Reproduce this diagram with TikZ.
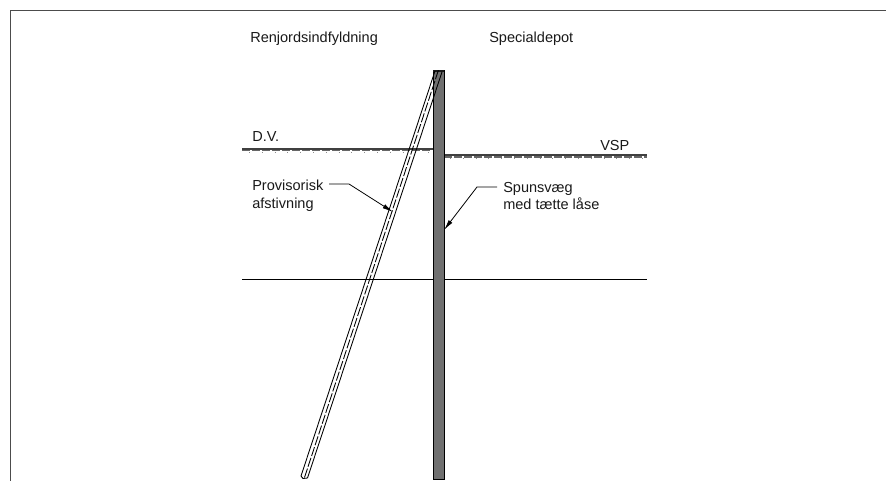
\documentclass[tikz,border=0pt]{standalone}
\usepackage{fontspec}
\setmainfont{Liberation Sans}
\usetikzlibrary{arrows.meta,calc}
\definecolor{wallgrey}{RGB}{112,112,112}
\tikzset{
  lbl/.style={inner sep=0pt,anchor=base west,font=\fontsize{10.9pt}{12pt}\selectfont,text=black!90},
  thinl/.style={draw=black,line width=0.65pt},
  ground/.style={draw=black!75,line width=1.4pt},
  gdash/.style={draw=black!60,line width=1pt,dash pattern=on 6pt off 1.5pt},
  gdot/.style={draw=black!45,line width=0.5pt,dash pattern=on 0.6pt off 9pt},
  leader/.style={draw=black,line width=0.6pt,-{Latex[length=8pt,width=3.4pt]}},
}
\begin{document}
\begin{tikzpicture}[x=0.75pt,y=-0.75pt]
\useasboundingbox (0,0) rectangle (886,481);
% frame
\draw[draw=black!70,line width=1.1pt] (10.5,481) -- (10.5,10.5) -- (886,10.5);
% coordinates
\coordinate (dvL) at (242,149);
\coordinate (dvR) at (433,149);
\coordinate (vspL) at (444,155);
\coordinate (vspR) at (647,155);
\coordinate (hL) at (242,279.5);
\coordinate (hR) at (647,279.5);
% ground lines
\draw[ground] (dvL) -- (dvR);
\draw[gdash] (242,150.8) -- (430,150.8);
\draw[gdot] (249,152.5) -- (430,152.5);
\draw[ground] (vspL) -- (vspR);
\draw[gdash] (444,157) -- (647,157);
\draw[gdot] (450,158.5) -- (647,158.5);
\draw[thinl] (hL) -- (hR);
% wall
\node[draw=black,fill=wallgrey,line width=0.65pt,minimum width=8.25pt,minimum height=306.75pt,inner sep=0pt,anchor=north west] (wall) at (433,70) {};
\fill[black!90] (433,70) rectangle (443.5,72);
% strut
\coordinate (sT) at (438.5,70);
\coordinate (sB) at (304.5,477.5);
\draw[thinl] ($(sB)+(-3.5,-1.5)$) -- ($(sT)+(-3.5,1)$);
\draw[thinl] ($(sB)+(3,0.5)$) -- ($(sT)+(3.5,2)$);
\draw[thinl] ($(sB)+(-3.5,-1.5)$) -- ($(sB)+(-1.5,1)$) -- ($(sB)+(3,0.5)$);
\draw[draw=black,line width=0.65pt,dash pattern=on 7pt off 1.5pt] (sB) -- (sT);
% labels
\node[lbl] (t1) at (250,43) {Renjordsindfyldning};
\node[lbl] (t2) at (489,43) {Specialdepot};
\node[lbl] (t3) at (252,142) {D.V.};
\node[lbl] (t4) at (600,150.5) {VSP};
\node[lbl] (t5) at (252,190.5) {Provisorisk};
\node[lbl] (t6) at (252,208.5) {afstivning};
\node[lbl] (t7) at (503,192.5) {Spunsvæg};
\node[lbl] (t8) at (503,209.5) {med tætte låse};
% leaders
\coordinate (a1) at (393,212);
\coordinate (a2) at (444,230);
\draw[leader] (329,184) -- (349,184) -- (a1);
\draw[leader] (497,187) -- (477,187) -- (a2);
\end{tikzpicture}
\end{document}
